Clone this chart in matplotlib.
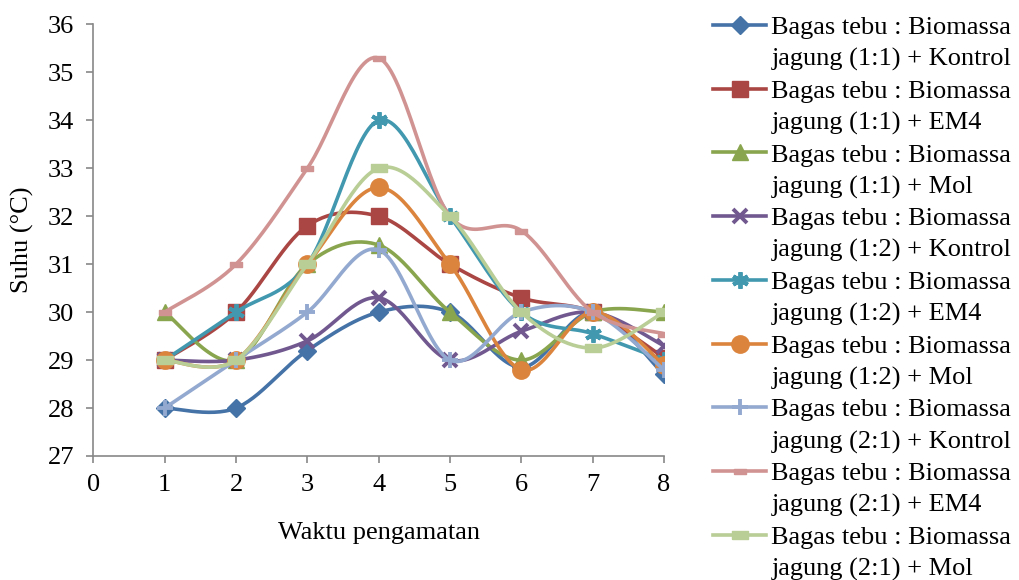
import numpy as np
import matplotlib.pyplot as plt
from matplotlib.lines import Line2D

plt.rcParams['font.family'] = ['Liberation Serif', 'DejaVu Serif']

hari = [1, 2, 3, 4, 5, 6, 7, 8]

k11 = [28, 28, 29.2, 30, 30, 28.85, 30, 28.7]
em11 = [29, 30, 31.8, 32, 31, 30.3, 30, 29.05]
mol11 = [30, 29, 31, 31.4, 30, 29, 30, 30]
k12 = [29, 29, 29.4, 30.3, 29, 29.6, 30, 29.3]
em12 = [29, 30, 31, 34, 32, 30, 29.55, 29.0]
mol12 = [29, 29, 31, 32.6, 31, 28.8, 30, 28.9]
k21 = [28, 29, 30, 31.3, 29, 30, 30, 28.8]
em21 = [30, 31, 33, 35.3, 32, 31.7, 30, 29.55]
mol21 = [29, 29, 31, 33, 32, 30, 29.25, 30]

labels = ['Bagas tebu : Biomassa\njagung (1:1) + Kontrol',
          'Bagas tebu : Biomassa\njagung (1:1) + EM4',
          'Bagas tebu : Biomassa\njagung (1:1) + Mol',
          'Bagas tebu : Biomassa\njagung (1:2) + Kontrol',
          'Bagas tebu : Biomassa\njagung (1:2) + EM4',
          'Bagas tebu : Biomassa\njagung (1:2) + Mol',
          'Bagas tebu : Biomassa\njagung (2:1) + Kontrol',
          'Bagas tebu : Biomassa\njagung (2:1) + EM4',
          'Bagas tebu : Biomassa\njagung (2:1) + Mol']

dash = [(-1, -0.45), (1, -0.45), (1, 0.45), (-1, 0.45), (-1, -0.45)]
# colour, marker, marker size, marker edge width
styles = [('#4572A7', 'D', 9, 1),
          ('#AA4643', 's', 12, 1),
          ('#89A54E', '^', 12, 1),
          ('#71588F', 'x', 10, 2.8),
          ('#4198AF', (6, 2, 0), 12, 2.8),
          ('#DB843D', 'o', 12.5, 1),
          ('#93A9CF', '+', 12, 2.8),
          ('#D19392', dash, 8, 1),
          ('#B9CD96', dash, 12, 1)]


def smooth(x, y, n=30):
    # Excel-style smoothed line: Catmull-Rom Bezier through the points
    p = np.column_stack([x, y]).astype(float)
    p = np.vstack([p[0], p, p[-1]])
    out = []
    t = np.linspace(0, 1, n)[:, None]
    for i in range(1, len(p) - 2):
        a = p[i]
        b = p[i] + (p[i + 1] - p[i - 1]) / 6
        c = p[i + 1] - (p[i + 2] - p[i]) / 6
        d = p[i + 1]
        seg = ((1 - t) ** 3) * a + 3 * ((1 - t) ** 2) * t * b + 3 * (1 - t) * t ** 2 * c + t ** 3 * d
        out.append(seg)
    out = np.vstack(out)
    return out[:, 0], out[:, 1]


fig = plt.figure(figsize=(10.19, 5.80), dpi=100)
ax = fig.add_axes([0.0916, 0.2138, 0.56, 0.744])

series = [k11, em11, mol11, k12, em12, mol12, k21, em21, mol21]
handles = []
leg_labels = []
for vals, lab, (col, mk, ms, mew) in zip(series, labels, styles):
    xs, ys = smooth(hari, vals)
    ax.plot(xs, ys, color=col, lw=2.6, solid_capstyle='round')
    ax.plot(hari, vals, ls='none', marker=mk, ms=ms, color=col,
            markeredgecolor=col, markeredgewidth=mew)
    # handle sits on the first line of the two-line label, like Excel
    line1, line2 = lab.split('\n')
    handles.append(Line2D([], [], color=col, lw=2.6, marker=mk, ms=ms,
                          markeredgecolor=col, markeredgewidth=mew))
    leg_labels.append(line1)
    handles.append(Line2D([], [], ls='none'))
    leg_labels.append(line2)

ax.set_xlim(0, 8)
ax.set_ylim(27, 36)
ax.set_xticks(range(0, 9))
ax.set_yticks(range(27, 37))
for s in ['top', 'right']:
    ax.spines[s].set_visible(False)
for s in ['left', 'bottom']:
    ax.spines[s].set_color('#888888')
    ax.spines[s].set_linewidth(1.2)
ax.tick_params(colors='#888888', labelcolor='black', labelsize=19, length=5, width=1.2)
ax.tick_params(axis='y', pad=9)
ax.tick_params(axis='x', pad=8)
ax.set_xlabel('Waktu pengamatan', fontsize=19, labelpad=19)
ax.set_ylabel('Suhu (°C)', fontsize=19, labelpad=10)

fig.legend(handles, leg_labels, loc='upper left', bbox_to_anchor=(0.70, 0.973),
           frameon=False, fontsize=19, handlelength=2.0, handletextpad=0.2,
           labelspacing=0.31, borderaxespad=0, borderpad=0)

fig.savefig('out.png', dpi=100)
